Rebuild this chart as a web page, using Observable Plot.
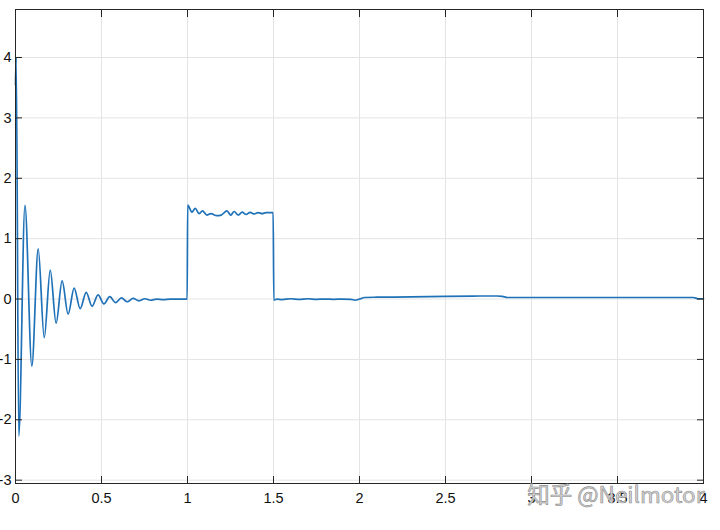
<!DOCTYPE html>
<html>
<head>
<meta charset="utf-8">
<script src="https://cdn.jsdelivr.net/npm/d3@7"></script>
<script src="https://cdn.jsdelivr.net/npm/@observablehq/plot@0.6"></script>
<style>
  html, body { margin: 0; padding: 0; background: #fff; }
  #chart { width: 720px; height: 530px; }
</style>
</head>
<body>
<div id="chart"></div>
<script>
// Sample times (s) and signal values
const time = [
  0, 0.004, 0.019, 0.055, 0.095, 0.132, 0.167, 0.202, 0.236, 0.271,
  0.306, 0.341, 0.376, 0.411, 0.445, 0.480, 0.514, 0.548, 0.582, 0.616,
  0.650, 0.684, 0.718, 0.752, 0.786, 0.820, 0.860, 0.900, 0.950, 0.998,
  1.001, 1.026, 1.045, 1.068, 1.087, 1.113, 1.136, 1.171, 1.196, 1.229,
  1.252, 1.271, 1.295, 1.318, 1.341, 1.364, 1.388, 1.411, 1.434, 1.457, 1.498,
  1.502, 1.52, 1.55, 1.6, 1.65, 1.7, 1.75, 1.8, 1.85, 1.9, 1.95, 1.975,
  2.0, 2.03, 2.1, 2.3, 2.5, 2.7, 2.8, 2.83, 2.86, 3.0, 3.5, 3.94, 3.97, 4.0
];
const value = [
  3.55, 4.0, -2.27, 1.55, -1.11, 0.83, -0.64, 0.48, -0.40, 0.30,
  -0.25, 0.18, -0.16, 0.11, -0.12, 0.07, -0.08, 0.04, -0.06, 0.02,
  -0.045, 0.01, -0.03, 0.005, -0.02, 0.0, -0.01, 0.0, 0.0, 0.0,
  1.555, 1.44, 1.50, 1.415, 1.46, 1.39, 1.415, 1.38, 1.39, 1.46,
  1.39, 1.45, 1.39, 1.44, 1.40, 1.435, 1.41, 1.43, 1.415, 1.43, 1.43,
  -0.02, 0.0, -0.01, 0.005, -0.005, 0.005, -0.005, 0.0, -0.005, 0.0, -0.005, -0.02,
  0.0, 0.025, 0.03, 0.035, 0.045, 0.05, 0.05, 0.045, 0.025, 0.025, 0.025, 0.025, 0.005, 0.005
];
const xTicks = [0, 0.5, 1, 1.5, 2, 2.5, 3, 3.5, 4];
const yTicks = [-3, -2, -1, 0, 1, 2, 3, 4];
const watermark = ["知乎 @Neilmotor"];

const data = time.map((t, i) => ({t, v: value[i]}));
const axisColor = "#262626";
const fmt = d => String(d);

const chart = Plot.plot({
  width: 720,
  height: 530,
  marginLeft: 15,
  marginRight: 17,
  marginTop: 9,
  marginBottom: 47,
  style: {fontFamily: "'Liberation Sans', Arial, sans-serif", fontSize: "14px", color: axisColor, background: "#fff"},
  x: {domain: [0, 4], label: null},
  y: {domain: [-3.055, 4.795], label: null},
  marks: [
    Plot.gridX(xTicks, {stroke: "#e4e4e4", strokeOpacity: 1}),
    Plot.gridY(yTicks, {stroke: "#e4e4e4", strokeOpacity: 1}),
    Plot.line(data, {x: "t", y: "v", stroke: "#1f72b8", strokeWidth: 1.7, curve: "monotone-x"}),
    // inward tick marks on all four sides
    Plot.axisX(xTicks, {anchor: "bottom", tickSize: -7, fill: "none", stroke: axisColor, label: null}),
    Plot.axisX(xTicks, {anchor: "top", tickSize: -7, fill: "none", stroke: axisColor, label: null}),
    Plot.axisY(yTicks, {anchor: "left", tickSize: -7, fill: "none", stroke: axisColor, label: null}),
    Plot.axisY(yTicks, {anchor: "right", tickSize: -7, fill: "none", stroke: axisColor, label: null}),
    // tick labels
    Plot.axisX(xTicks, {anchor: "bottom", tickSize: 0, tickPadding: 9, tickFormat: fmt, fill: "#111", fontSize: 14.5, label: null}),
    Plot.axisY(yTicks, {anchor: "left", tickSize: 0, tickPadding: 4, tickFormat: fmt, fill: "#111", fontSize: 14.5, label: null}),
    Plot.frame({stroke: axisColor, strokeWidth: 1}),
    Plot.text(watermark, {
      text: d => d, frameAnchor: "bottom-right", textAnchor: "end", dx: 1, dy: 19,
      fontFamily: "'Noto Sans CJK SC', 'Noto Sans', sans-serif", fontSize: 22.5,
      fill: "#d4d4d4", stroke: "#8c8c8c", strokeWidth: 0.6, paintOrder: "normal"
    })
  ]
});
document.getElementById("chart").appendChild(chart);
</script>
</body>
</html>
